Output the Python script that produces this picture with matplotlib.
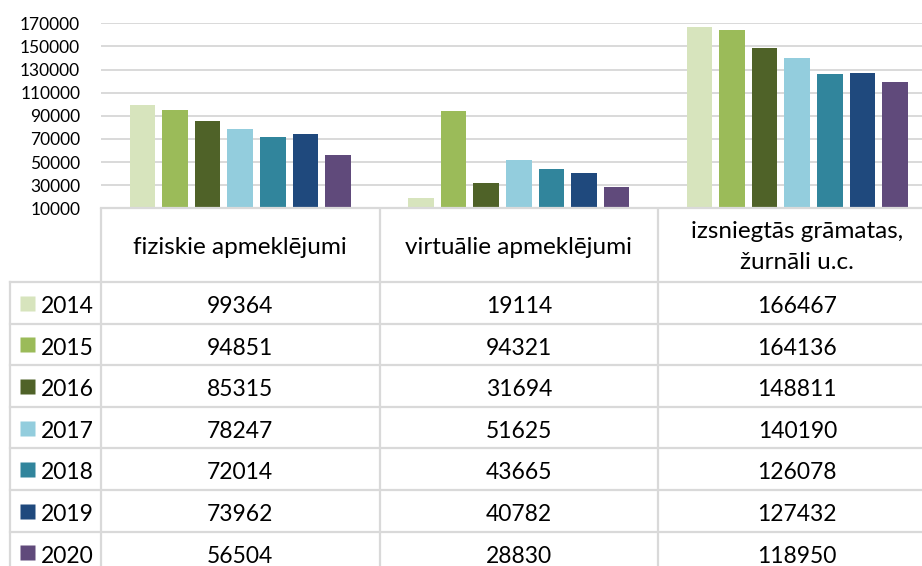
import matplotlib
matplotlib.use("Agg")
import matplotlib.pyplot as plt
import numpy as np

plt.rcParams['font.family'] = ['Lato', 'DejaVu Sans']

categories = ["fiziskie apmeklējumi", "virtuālie apmeklējumi",
              "izsniegtās grāmatas,\nžurnāli u.c."]
years = ["2014", "2015", "2016", "2017", "2018", "2019", "2020"]
fiziskie = [99364, 94851, 85315, 78247, 72014, 73962, 56504]
virtualie = [19114, 94321, 31694, 51625, 43665, 40782, 28830]
gramatas = [166467, 164136, 148811, 140190, 126078, 127432, 118950]
colors = ["#d7e4bd", "#9bbb59", "#4f6228", "#93cddd", "#31859c", "#1f497d", "#604a7b"]
yticks = list(range(10000, 170001, 20000))

values = np.array([fiziskie, virtualie, gramatas]).T  # rows = years

W, H = 922, 566
x0 = 101          # left edge of category area (px)
cat_w = 278.5     # one category column (px)
y_axis = 208.3    # bottom of the chart (px from top)
y_top = 23.3
row0 = 282.0      # first data row top
row_h = 41.6
grid_c = "#d9d9d9"

fig = plt.figure(figsize=(W / 100, H / 100), dpi=100)

# chart
ax = fig.add_axes([x0 / W, (H - y_axis) / H, 3 * cat_w / W, (y_axis - y_top) / H])
ax.set_xlim(0, 3)
ax.set_ylim(10000, 170000)
slot = 0.117
bw = 0.0916
x = np.arange(3) + 0.5
for i, yr in enumerate(years):
    ax.bar(x + (i - 3) * slot, values[i] - 10000, bw, bottom=10000,
           color=colors[i], zorder=3)
ax.set_yticks(yticks)
ax.set_yticklabels([str(v) for v in yticks], fontsize=12.5)
ax.set_xticks([])
ax.grid(axis="y", color=grid_c, lw=1.4, zorder=0)
ax.tick_params(axis="y", length=0, pad=15)
for s in ax.spines.values():
    s.set_visible(False)

# data table
tax = fig.add_axes([0, 0, 1, (H - y_axis) / H])
xl = -x0 / cat_w
xr = (W - x0) / cat_w
yt = -(row0 - y_axis) / row_h
yb = (H - row0) / row_h
tax.set_xlim(xl, xr)
tax.set_ylim(yb, yt)
tax.axis("off")

lw = 1.6
x_left = (10 - x0) / cat_w
tax.plot([0, xr], [yt, yt], color=grid_c, lw=lw, clip_on=False)
for r in range(len(years)):
    tax.plot([x_left, xr], [r, r], color=grid_c, lw=lw)
for c in range(4):
    tax.plot([c, c], [yt, yb], color=grid_c, lw=lw)
tax.plot([x_left, x_left], [0, yb], color=grid_c, lw=lw)

for c, name in enumerate(categories):
    tax.text(c + 0.5, yt / 2 + 0.05, name, ha="center", va="center",
             fontsize=17.5, linespacing=1.6)

ty = 0.09  # nudge digits to optical centre of the row
for r, yr in enumerate(years):
    tax.plot((26.5 - x0) / cat_w, r + 0.5, marker="s", ms=10.8,
             color=colors[r], mec="none")
    tax.text((41 - x0) / cat_w, r + 0.5 + ty, yr, ha="left", va="center",
             fontsize=16.5)
    for c in range(3):
        tax.text(c + 0.5, r + 0.5 + ty, str(values[r][c]), ha="center",
                 va="center", fontsize=16.5)

fig.savefig("out.png", dpi=100)
